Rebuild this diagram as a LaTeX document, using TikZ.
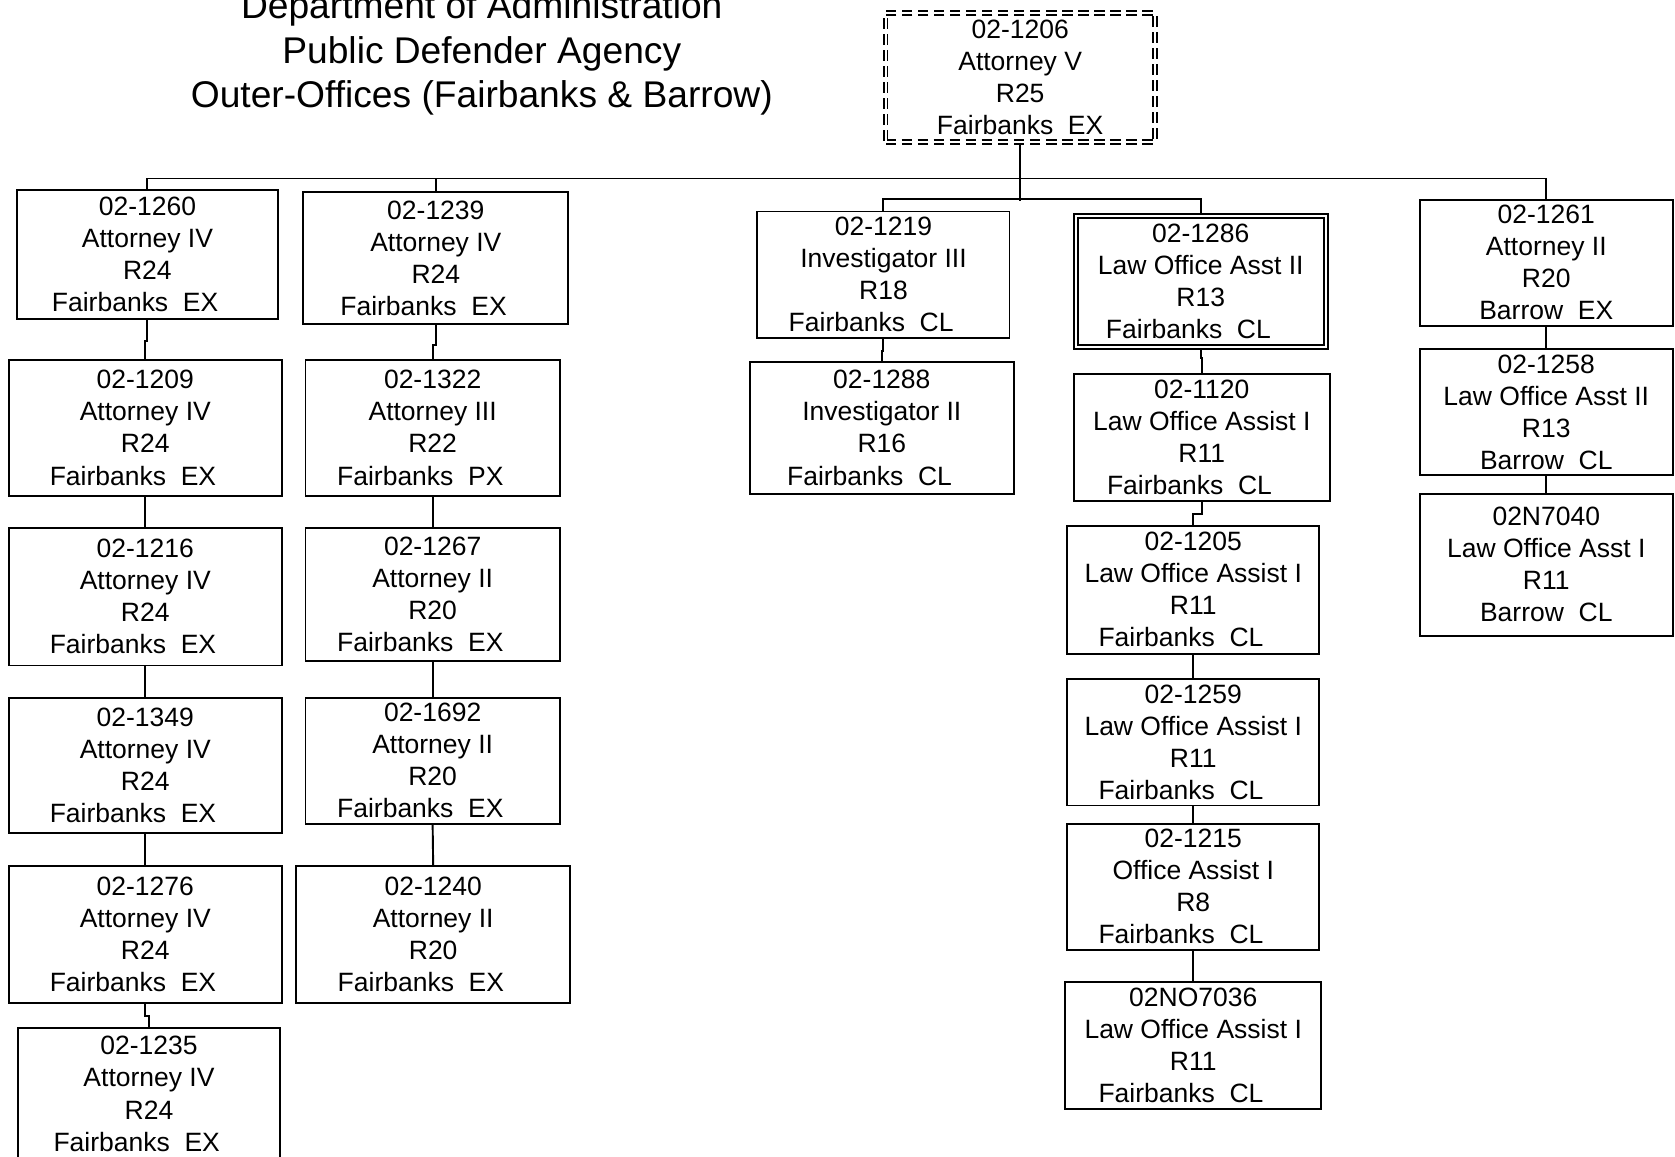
\documentclass[tikz,border=0pt]{standalone}
\usepackage{fontspec}
\setmainfont{Liberation Sans}
\newcommand\orgbox[7]{\node[box,#1,minimum width={(#5-#3)*0.5pt},minimum height={(#6-#4)*0.5pt}] (#2) at ({(#3+#5)/2},{(#4+#6)/2}) {#7};}
\newcommand\fbx[1]{Fairbanks\ \ #1\kern11.5pt}
\begin{document}
\begin{tikzpicture}[x=0.5pt,y=-0.5pt,line width=0.9pt,
  box/.style={draw,rectangle,align=center,inner sep=0pt,font=\fontsize{12.4}{15}\selectfont},
  topbox/.style={dash pattern=on 5pt off 2.5pt,double,double distance=1.0pt,line width=0.8pt},
  dbl/.style={double,double distance=1.1pt,line width=0.8pt}]
\useasboundingbox (0,0) rectangle (1568,1083);

\node[font=\fontsize{17.4}{21}\selectfont,align=center] (title) at (451,50)
  {Department of Administration\\Public Defender Agency\\Outer-Offices (Fairbanks \& Barrow)};

% top
\orgbox{topbox}{n1206}{829}{12}{1081}{133}{02-1206\\Attorney V\\R25\\Fairbanks\ \ EX}

% column 1
\orgbox{}{n1260}{16}{178}{260}{299}{02-1260\\Attorney IV\\R24\\\fbx{EX}}
\orgbox{}{n1209}{8}{337}{264}{464}{02-1209\\Attorney IV\\R24\\\fbx{EX}}
\orgbox{}{n1216}{8}{494}{264}{623}{02-1216\\Attorney IV\\R24\\\fbx{EX}}
\orgbox{}{n1349}{8}{653}{264}{780}{02-1349\\Attorney IV\\R24\\\fbx{EX}}
\orgbox{}{n1276}{8}{811}{264}{939}{02-1276\\Attorney IV\\R24\\\fbx{EX}}
\orgbox{}{n1235}{17}{962}{262}{1086}{02-1235\\Attorney IV\\R24\\\fbx{EX}}

% column 2
\orgbox{}{n1239}{284}{180}{532}{303}{02-1239\\Attorney IV\\R24\\\fbx{EX}}
\orgbox{}{n1322}{286}{337}{524}{464}{02-1322\\Attorney III\\R22\\\fbx{PX}}
\orgbox{}{n1267}{286}{494}{524}{619}{02-1267\\Attorney II\\R20\\\fbx{EX}}
\orgbox{}{n1692}{286}{653}{524}{771}{02-1692\\Attorney II\\R20\\\fbx{EX}}
\orgbox{}{n1240}{277}{811}{534}{939}{02-1240\\Attorney II\\R20\\\fbx{EX}}

% column 3
\orgbox{}{n1219}{709}{198}{945}{316}{02-1219\\Investigator III\\R18\\\fbx{CL}}
\orgbox{}{n1288}{702}{339}{949}{462}{02-1288\\Investigator II\\R16\\\fbx{CL}}

% column 4
\orgbox{dbl}{n1286}{1007}{202}{1241}{325}{02-1286\\Law Office Asst II\\R13\\\fbx{CL}}
\orgbox{}{n1120}{1005}{350}{1245}{469}{02-1120\\Law Office Assist I\\R11\\\fbx{CL}}
\orgbox{}{n1205}{999}{492}{1235}{612}{02-1205\\Law Office Assist I\\R11\\\fbx{CL}}
\orgbox{}{n1259}{999}{636}{1235}{754}{02-1259\\Law Office Assist I\\R11\\\fbx{CL}}
\orgbox{}{n1215}{999}{771}{1235}{889}{02-1215\\Office Assist I\\R8\\\fbx{CL}}
\orgbox{}{n7036}{997}{919}{1237}{1038}{02NO7036\\Law Office Assist I\\R11\\\fbx{CL}}

% column 5
\orgbox{}{n1261}{1329}{187}{1566}{305}{02-1261\\Attorney II\\R20\\Barrow\ \ EX}
\orgbox{}{n1258}{1329}{327}{1566}{445}{02-1258\\Law Office Asst II\\R13\\Barrow\ \ CL}
\orgbox{}{n7040}{1329}{462}{1566}{595}{02N7040\\Law Office Asst I\\R11\\Barrow\ \ CL}

% connectors: main bus
\draw (n1206.south) -- ++(0,54);
\draw (n1260.north) -- ++(0,-10) -| (n1261.north);
\draw (n1239.north) -- ++(0,-12);
\draw (n1219.north) -- ++(0,-11) -| (n1286.north);

% column 1
\draw (n1260.south) -- ++(0,19) -| (n1209.north);
\draw (n1209.south) -- (n1216.north);
\draw (n1216.south) -- (n1349.north);
\draw (n1349.south) -- (n1276.north);
\draw (n1276.south) -- ++(0,11) -| (n1235.north);

% column 2
\draw (n1239.south) -- ++(0,19) -| (n1322.north);
\draw (n1322.south) -- (n1267.north);
\draw (n1267.south) -- (n1692.north);
\draw (n1692.south) -- (n1240.north);

% column 3
\draw (n1219.south) -- ++(0,12) -| (n1288.north);

% column 4
\draw (n1286.south) -- ++(0,9) -| (n1120.north);
\draw (n1120.south) -- ++(0,11) -| (n1205.north);
\draw (n1205.south) -- (n1259.north);
\draw (n1259.south) -- (n1215.north);
\draw (n1215.south) -- (n7036.north);

% column 5
\draw (n1261.south) -- (n1258.north);
\draw (n1258.south) -- (n7040.north);
\end{tikzpicture}
\end{document}
